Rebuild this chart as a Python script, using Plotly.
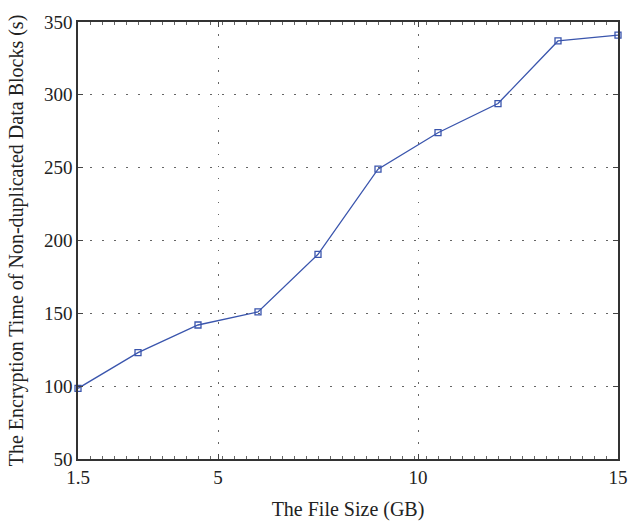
import plotly.graph_objects as go

file_size = [1.5, 3, 4.5, 6, 7.5, 9, 10.5, 12, 13.5, 15]
enc_time = [98.5, 123, 142, 151, 190.5, 249, 274, 294, 337, 341]
x_ticks = [1.5, 5, 10, 15]
y_ticks = [50, 100, 150, 200, 250, 300, 350]

blue = "#3a55ad"
fig = go.Figure()
fig.add_trace(go.Scatter(
    x=file_size, y=enc_time, mode="lines+markers",
    line=dict(color=blue, width=1.3),
    marker=dict(symbol="square-open", size=6, color=blue, line=dict(width=1.3, color=blue)),
    showlegend=False, cliponaxis=False,
))
tick_font = dict(family="Liberation Serif, Times New Roman, serif", size=19, color="#222")
title_font = dict(family="Liberation Serif, Times New Roman, serif", size=20, color="#222")
axis_common = dict(
    showline=True, linecolor="#333", linewidth=1.5, mirror="ticks",
    ticks="inside", ticklen=5, tickcolor="#444", tickwidth=1,
    showgrid=True, gridcolor="#666", griddash="1.5px,10.5px", gridwidth=1.2,
    zeroline=False, tickfont=tick_font, automargin=False,
)
fig.update_xaxes(range=[1.5, 15], tickvals=x_ticks, ticktext=[str(t) for t in x_ticks],
                 ticklabeloverflow="allow",
                 title=dict(text="The File Size (GB)", font=title_font, standoff=15),
                 minor=dict(ticks="inside", ticklen=3, tickcolor="#666", dtick=0.3, tick0=1.5, showgrid=False),
                 **axis_common)
fig.update_yaxes(range=[50, 350], tickvals=y_ticks,
                 title=dict(text="The Encryption Time of Non-duplicated Data Blocks (s)", font=title_font, standoff=15),
                 **axis_common)
fig.update_layout(
    width=628, height=525,
    margin=dict(l=78, r=10, t=22, b=66),
    plot_bgcolor="white", paper_bgcolor="white",
    font=tick_font,
)
fig.write_html("out.html", config={"displayModeBar": False},
               post_script="document.body.style.margin='0';document.body.style.overflow='hidden';")
